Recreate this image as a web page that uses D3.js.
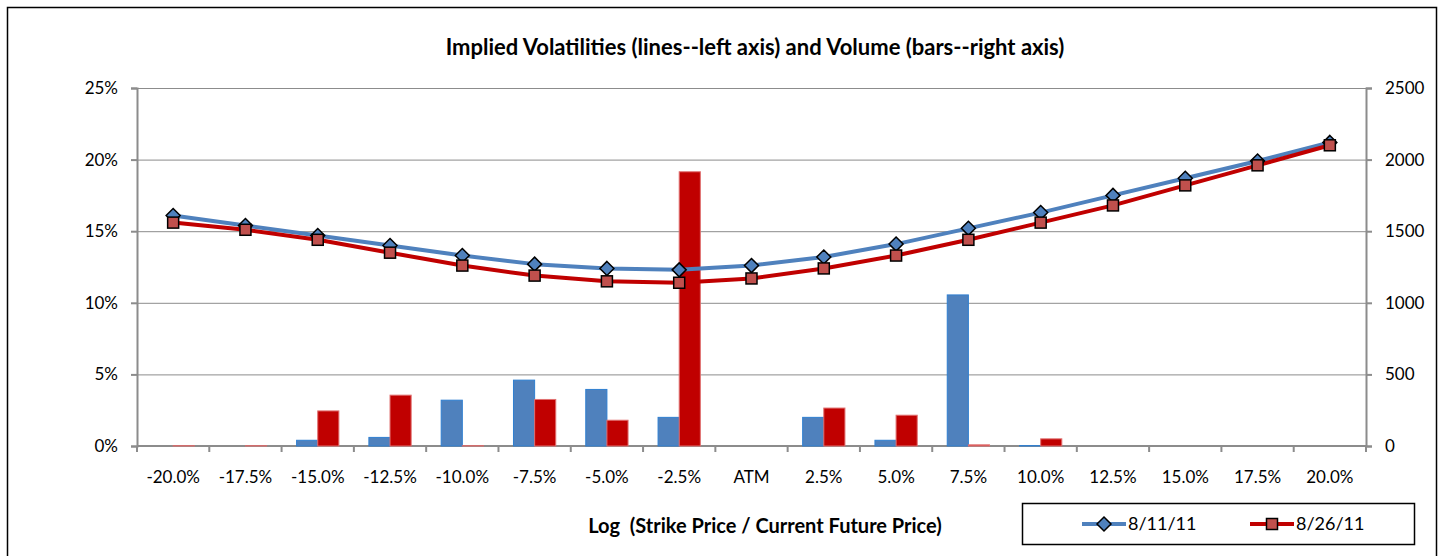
<!DOCTYPE html>
<html>
<head>
<meta charset="utf-8">
<script src="https://cdn.jsdelivr.net/npm/d3@7"></script>
<style>
  body { margin: 0; background: #fff; }
  text { font-family: Lato, "Open Sans", sans-serif; fill: #000; }
</style>
</head>
<body>
<svg id="chart" width="1442" height="556"></svg>
<script>
// categories on the x axis
var categories = ["-20.0%", "-17.5%", "-15.0%", "-12.5%", "-10.0%", "-7.5%", "-5.0%", "-2.5%",
    "ATM", "2.5%", "5.0%", "7.5%", "10.0%", "12.5%", "15.0%", "17.5%", "20.0%"];

// implied vols (left axis, %)
var vol_0811 = [16.1, 15.4, 14.7, 14.0, 13.3, 12.7, 12.4, 12.3, 12.6, 13.2, 14.1, 15.2, 16.3, 17.5, 18.7, 19.9, 21.2];
var vol_0826 = [15.6, 15.1, 14.4, 13.5, 12.6, 11.9, 11.5, 11.4, 11.7, 12.4, 13.3, 14.4, 15.6, 16.8, 18.2, 19.6, 21.0];

// volume (right axis)
var volu_0811 = [0, 0, 40, 60, 320, 460, 395, 200, 0, 200, 40, 1055, 3, 0, 0, 0, 0];
var volu_0826 = [2, 2, 245, 355, 2, 325, 180, 1915, 0, 265, 215, 8, 50, 0, 0, 0, 0];

var leftTicks = [0, 5, 10, 15, 20, 25];
var rightTicks = [0, 500, 1000, 1500, 2000, 2500];

var series_names = ["8/11/11", "8/26/11"];

var svg = d3.select("#chart");

var plot = {left: 137, top: 88, right: 1366, bottom: 446};

// outer border
svg.append("rect")
    .attr("x", 7.5).attr("y", 7.5)
    .attr("width", 1429).attr("height", 560)
    .attr("fill", "none")
    .attr("stroke", "#000")
    .attr("stroke-width", 1.5);

var x = d3.scaleBand()
    .domain(categories)
    .range([plot.left, plot.right]);

var yL = d3.scaleLinear().domain([0, 25]).range([plot.bottom, plot.top]);
var yR = d3.scaleLinear().domain([0, 2500]).range([plot.bottom, plot.top]);

// gridlines
svg.append("g")
    .selectAll("line")
    .data(leftTicks.slice(1))
    .enter().append("line")
    .attr("x1", plot.left).attr("x2", plot.right)
    .attr("y1", function (d) { return yL(d) + 0.5; })
    .attr("y2", function (d) { return yL(d) + 0.5; })
    .attr("stroke", "#8c8c8c")
    .attr("stroke-width", 1);

// left axis
var gL = svg.append("g")
    .attr("transform", "translate(" + plot.left + ",0)")
    .call(d3.axisLeft(yL).tickValues(leftTicks).tickSize(6).tickPadding(13)
        .tickFormat(function (d) { return d + "%"; }));

// right axis
var gR = svg.append("g")
    .attr("transform", "translate(" + plot.right + ",0)")
    .call(d3.axisRight(yR).tickValues(rightTicks).tickSize(6).tickPadding(13)
        .tickFormat(d3.format("d")));

// x axis with ticks at category boundaries
var gX = svg.append("g")
    .attr("transform", "translate(0," + plot.bottom + ")")
    .call(d3.axisBottom(x).tickSize(0).tickPadding(25));

var bounds = categories.map(function (c) { return x(c); }).concat([plot.right]);
gX.selectAll(".bnd")
    .data(bounds)
    .enter().append("line")
    .attr("class", "bnd")
    .attr("x1", function (d) { return d; })
    .attr("x2", function (d) { return d; })
    .attr("y1", 0).attr("y2", 6);

[gL, gR, gX].forEach(function (g) {
    g.select(".domain").attr("stroke", "#8c8c8c").attr("stroke-width", 2);
    g.selectAll("line").attr("stroke", "#8c8c8c").attr("stroke-width", 2);
    g.selectAll("text").style("font-size", "17px").style("font-family", "Lato, sans-serif").attr("fill", "#000");
});
gX.select(".domain").attr("d", "M" + plot.left + ",0H" + plot.right);

// bars
var sub = d3.scaleBand()
    .domain([0, 1])
    .range([0, x.bandwidth()])
    .paddingOuter(0.71)
    .paddingInner(0);

var barSeries = [
    {vals: volu_0811, fill: "#4f81bd", stroke: "#2f7fd0"},
    {vals: volu_0826, fill: "#c00000", stroke: "#e07070"}
];

barSeries.forEach(function (s, si) {
    svg.append("g")
        .selectAll("rect")
        .data(s.vals)
        .enter().append("rect")
        .attr("x", function (d, i) { return x(categories[i]) + sub(si); })
        .attr("y", function (d) { return yR(d); })
        .attr("width", sub.bandwidth())
        .attr("height", function (d) { return plot.bottom - yR(d); })
        .attr("fill", s.fill)
        .attr("stroke", s.stroke)
        .attr("stroke-width", 1);
});

// lines
var lineSeries = [
    {vals: vol_0811, color: "#4f81bd", marker: "diamond", mfill: "#4f81bd"},
    {vals: vol_0826, color: "#c00000", marker: "square", mfill: "#c0504d"}
];

var line = d3.line()
    .x(function (d, i) { return x(categories[i]) + x.bandwidth() / 2; })
    .y(function (d) { return yL(d); });

function drawMarker(g, type, fill) {
    if (type === "diamond") {
        g.append("path")
            .attr("d", "M0,-7L7,0L0,7L-7,0Z")
            .attr("fill", fill).attr("stroke", "#000").attr("stroke-width", 1.5);
    } else {
        g.append("rect")
            .attr("x", -5.5).attr("y", -5.5).attr("width", 11).attr("height", 11)
            .attr("fill", fill).attr("stroke", "#000").attr("stroke-width", 1.5);
    }
}

lineSeries.forEach(function (s) {
    svg.append("path")
        .datum(s.vals)
        .attr("d", line)
        .attr("fill", "none")
        .attr("stroke", s.color)
        .attr("stroke-width", 4)
        .attr("stroke-linejoin", "round");
});

lineSeries.forEach(function (s) {
    s.vals.forEach(function (v, i) {
        var g = svg.append("g")
            .attr("transform", "translate(" + (x(categories[i]) + x.bandwidth() / 2) + "," + yL(v) + ")");
        drawMarker(g, s.marker, s.mfill);
    });
});

// title
svg.append("text")
    .attr("x", 755).attr("y", 55)
    .attr("text-anchor", "middle")
    .style("font-size", "22px")
    .style("font-weight", "bold")
    .text("Implied Volatilities (lines--left axis) and Volume (bars--right axis)");

// x axis title
svg.append("text")
    .attr("x", 765).attr("y", 533)
    .attr("text-anchor", "middle")
    .style("font-size", "20px")
    .style("font-weight", "bold")
    .attr("xml:space", "preserve")
    .text("Log  (Strike Price / Current Future Price)");

// legend
var lg = svg.append("g").attr("transform", "translate(1022,503)");
lg.append("rect")
    .attr("x", 0.5).attr("y", 0.5).attr("width", 392).attr("height", 41)
    .attr("fill", "#fff").attr("stroke", "#000").attr("stroke-width", 1.5);

var legendX = [60, 228];
lineSeries.forEach(function (s, i) {
    var g = lg.append("g").attr("transform", "translate(" + legendX[i] + ",21)");
    g.append("line")
        .attr("x1", 0).attr("x2", 44).attr("y1", 0).attr("y2", 0)
        .attr("stroke", s.color).attr("stroke-width", 4);
    var m = g.append("g").attr("transform", "translate(22,0)");
    drawMarker(m, s.marker, s.mfill);
    g.append("text")
        .attr("x", 46).attr("y", 6)
        .style("font-size", "18px")
        .text(series_names[i]);
});
</script>
</body>
</html>
